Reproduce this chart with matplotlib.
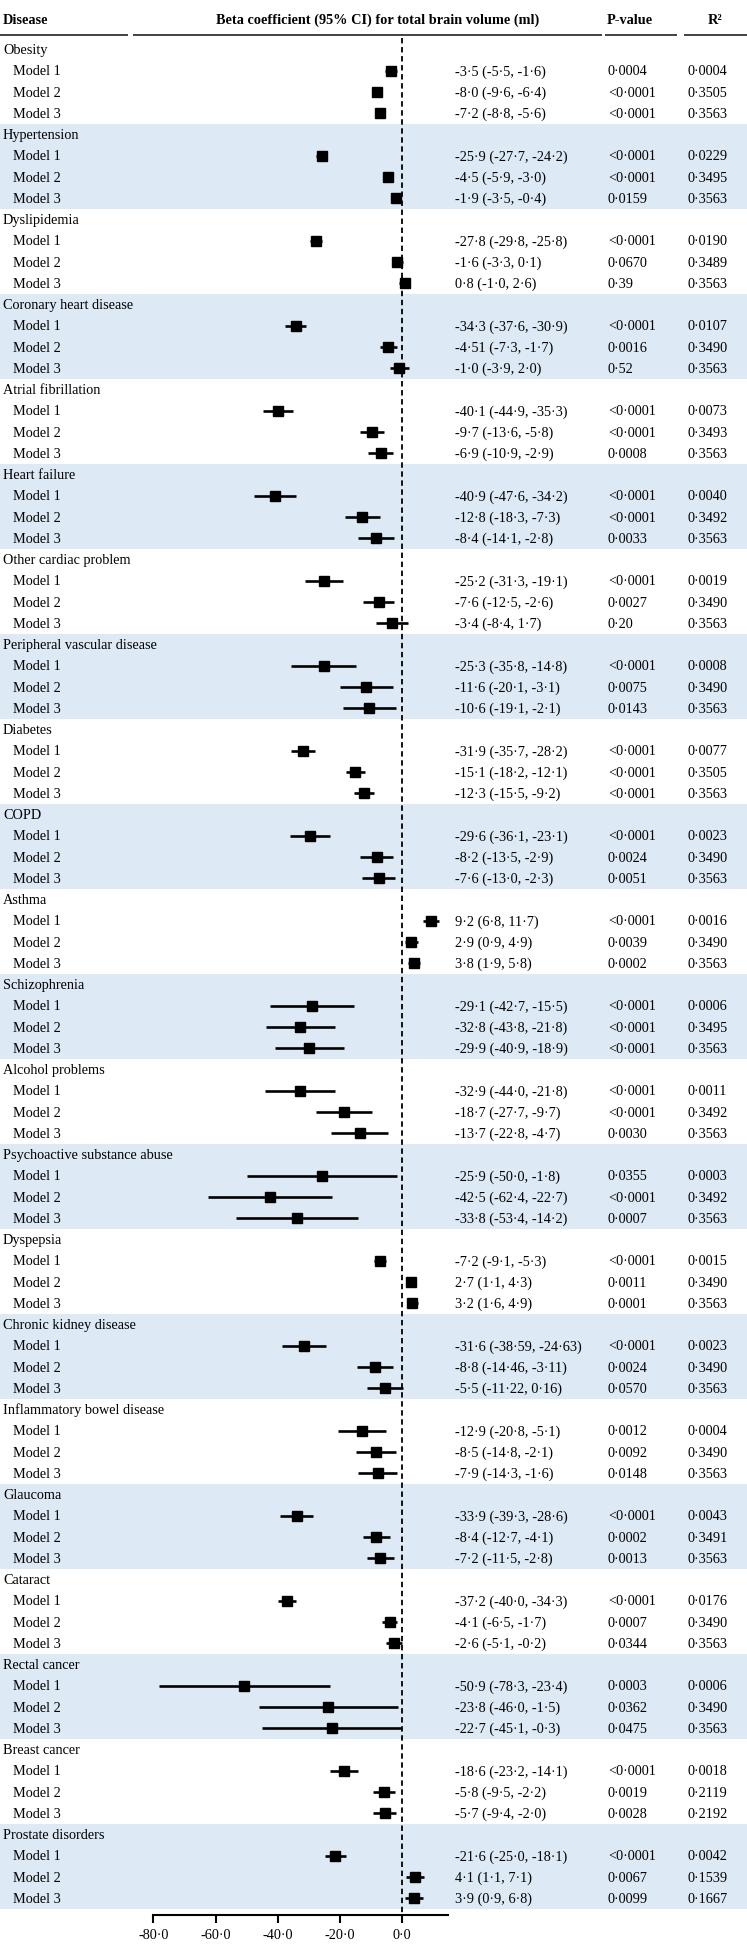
import matplotlib
matplotlib.use('Agg')
import matplotlib.pyplot as plt
from matplotlib.transforms import blended_transform_factory

plt.rcParams['font.family'] = ['Liberation Serif', 'DejaVu Serif']

# ---------------- data ----------------
groups = ["Obesity", "Hypertension", "Dyslipidemia", "Coronary heart disease",
          "Atrial fibrillation", "Heart failure", "Other cardiac problem",
          "Peripheral vascular disease", "Diabetes", "COPD", "Asthma",
          "Schizophrenia", "Alcohol problems", "Psychoactive substance abuse",
          "Dyspepsia", "Chronic kidney disease", "Inflammatory bowel disease",
          "Glaucoma", "Cataract", "Rectal cancer", "Breast cancer",
          "Prostate disorders"]

models = ["Model 1", "Model 2", "Model 3"]

est = [["-3.5", "-8.0", "-7.2"], ["-25.9", "-4.5", "-1.9"], ["-27.8", "-1.6", "0.8"],
       ["-34.3", "-4.51", "-1.0"], ["-40.1", "-9.7", "-6.9"], ["-40.9", "-12.8", "-8.4"],
       ["-25.2", "-7.6", "-3.4"], ["-25.3", "-11.6", "-10.6"], ["-31.9", "-15.1", "-12.3"],
       ["-29.6", "-8.2", "-7.6"], ["9.2", "2.9", "3.8"], ["-29.1", "-32.8", "-29.9"],
       ["-32.9", "-18.7", "-13.7"], ["-25.9", "-42.5", "-33.8"], ["-7.2", "2.7", "3.2"],
       ["-31.6", "-8.8", "-5.5"], ["-12.9", "-8.5", "-7.9"], ["-33.9", "-8.4", "-7.2"],
       ["-37.2", "-4.1", "-2.6"], ["-50.9", "-23.8", "-22.7"], ["-18.6", "-5.8", "-5.7"],
       ["-21.6", "4.1", "3.9"]]

lo = [["-5.5", "-9.6", "-8.8"], ["-27.7", "-5.9", "-3.5"], ["-29.8", "-3.3", "-1.0"],
      ["-37.6", "-7.3", "-3.9"], ["-44.9", "-13.6", "-10.9"], ["-47.6", "-18.3", "-14.1"],
      ["-31.3", "-12.5", "-8.4"], ["-35.8", "-20.1", "-19.1"], ["-35.7", "-18.2", "-15.5"],
      ["-36.1", "-13.5", "-13.0"], ["6.8", "0.9", "1.9"], ["-42.7", "-43.8", "-40.9"],
      ["-44.0", "-27.7", "-22.8"], ["-50.0", "-62.4", "-53.4"], ["-9.1", "1.1", "1.6"],
      ["-38.59", "-14.46", "-11.22"], ["-20.8", "-14.8", "-14.3"], ["-39.3", "-12.7", "-11.5"],
      ["-40.0", "-6.5", "-5.1"], ["-78.3", "-46.0", "-45.1"], ["-23.2", "-9.5", "-9.4"],
      ["-25.0", "1.1", "0.9"]]

hi = [["-1.6", "-6.4", "-5.6"], ["-24.2", "-3.0", "-0.4"], ["-25.8", "0.1", "2.6"],
      ["-30.9", "-1.7", "2.0"], ["-35.3", "-5.8", "-2.9"], ["-34.2", "-7.3", "-2.8"],
      ["-19.1", "-2.6", "1.7"], ["-14.8", "-3.1", "-2.1"], ["-28.2", "-12.1", "-9.2"],
      ["-23.1", "-2.9", "-2.3"], ["11.7", "4.9", "5.8"], ["-15.5", "-21.8", "-18.9"],
      ["-21.8", "-9.7", "-4.7"], ["-1.8", "-22.7", "-14.2"], ["-5.3", "4.3", "4.9"],
      ["-24.63", "-3.11", "0.16"], ["-5.1", "-2.1", "-1.6"], ["-28.6", "-4.1", "-2.8"],
      ["-34.3", "-1.7", "-0.2"], ["-23.4", "-1.5", "-0.3"], ["-14.1", "-2.2", "-2.0"],
      ["-18.1", "7.1", "6.8"]]

pval = [["0.0004", "<0.0001", "<0.0001"], ["<0.0001", "<0.0001", "0.0159"],
        ["<0.0001", "0.0670", "0.39"], ["<0.0001", "0.0016", "0.52"],
        ["<0.0001", "<0.0001", "0.0008"], ["<0.0001", "<0.0001", "0.0033"],
        ["<0.0001", "0.0027", "0.20"], ["<0.0001", "0.0075", "0.0143"],
        ["<0.0001", "<0.0001", "<0.0001"], ["<0.0001", "0.0024", "0.0051"],
        ["<0.0001", "0.0039", "0.0002"], ["<0.0001", "<0.0001", "<0.0001"],
        ["<0.0001", "<0.0001", "0.0030"], ["0.0355", "<0.0001", "0.0007"],
        ["<0.0001", "0.0011", "0.0001"], ["<0.0001", "0.0024", "0.0570"],
        ["0.0012", "0.0092", "0.0148"], ["<0.0001", "0.0002", "0.0013"],
        ["<0.0001", "0.0007", "0.0344"], ["0.0003", "0.0362", "0.0475"],
        ["<0.0001", "0.0019", "0.0028"], ["<0.0001", "0.0067", "0.0099"]]

r2 = [["0.0004", "0.3505", "0.3563"], ["0.0229", "0.3495", "0.3563"],
      ["0.0190", "0.3489", "0.3563"], ["0.0107", "0.3490", "0.3563"],
      ["0.0073", "0.3493", "0.3563"], ["0.0040", "0.3492", "0.3563"],
      ["0.0019", "0.3490", "0.3563"], ["0.0008", "0.3490", "0.3563"],
      ["0.0077", "0.3505", "0.3563"], ["0.0023", "0.3490", "0.3563"],
      ["0.0016", "0.3490", "0.3563"], ["0.0006", "0.3495", "0.3563"],
      ["0.0011", "0.3492", "0.3563"], ["0.0003", "0.3492", "0.3563"],
      ["0.0015", "0.3490", "0.3563"], ["0.0023", "0.3490", "0.3563"],
      ["0.0004", "0.3490", "0.3563"], ["0.0043", "0.3491", "0.3563"],
      ["0.0176", "0.3490", "0.3563"], ["0.0006", "0.3490", "0.3563"],
      ["0.0018", "0.2119", "0.2192"], ["0.0042", "0.1539", "0.1667"]]

xticks = [-80, -60, -40, -20, 0]
xtick_labels = ["-80.0", "-60.0", "-40.0", "-20.0", "0.0"]

headers = ["Disease", "Beta coefficient (95% CI) for total brain volume (ml)", "P-value", "R\u00b2"]

# ---------------- layout ----------------
W, H = 747, 1949
FS = 10.3
SHADE = '#dde9f5'
AX_BOTTOM = 1916          # pixel row of the x axis line
ROW0, PITCH = 50.6, 21.25 # pixel centre of first row, row pitch
X0, PPU = 402.3, 3.11     # pixel of x=0, pixels per unit


def dot(s):
    return s.replace('.', '\u00b7')


def r_of(px):
    return (px - ROW0) / PITCH


def fx(px):
    return px / W


fig = plt.figure(figsize=(W / 100, H / 100), dpi=100)
ax = fig.add_axes([0, (H - AX_BOTTOM) / H, 1, AX_BOTTOM / H])
ax.set_ylim(r_of(AX_BOTTOM), r_of(0))
ax.set_xlim((0 - X0) / PPU, (W - X0) / PPU)
trans = blended_transform_factory(ax.transAxes, ax.transData)

for g, name in enumerate(groups):
    base = 4 * g
    if g % 2 == 1:
        ax.axhspan(base - 0.5, base + 3.5, color=SHADE, lw=0, zorder=0)
    ax.text(fx(3), base, name, transform=trans, va='center', ha='left', fontsize=FS)
    for k in range(3):
        r = base + 1 + k
        e, l, h = float(est[g][k]), float(lo[g][k]), float(hi[g][k])
        ax.plot([l, h], [r, r], color='k', lw=1.9, solid_capstyle='butt', zorder=3)
        ax.plot([e], [r], marker='s', ms=6.5, color='k', zorder=4, lw=0)
        ax.text(fx(13), r, models[k], transform=trans, va='center', ha='left', fontsize=FS)
        ax.text(fx(455), r, dot(f"{est[g][k]} ({lo[g][k]}, {hi[g][k]})"), transform=trans,
                va='center', ha='left', fontsize=FS)
        ax.text(fx(608), r, dot(pval[g][k]), transform=trans, va='center', ha='left', fontsize=FS)
        ax.text(fx(688), r, dot(r2[g][k]), transform=trans, va='center', ha='left', fontsize=FS)

# header
hy = r_of(20)
ax.text(fx(3), hy, headers[0], transform=trans, va='center', ha='left', fontsize=FS, weight='bold')
ax.text(fx(378), hy, headers[1], transform=trans, va='center', ha='center', fontsize=FS, weight='bold')
ax.text(fx(630), hy, headers[2], transform=trans, va='center', ha='center', fontsize=FS, weight='bold')
ax.text(fx(715), hy, headers[3], transform=trans, va='center', ha='center', fontsize=FS, weight='bold')
for a, b in [(0, 128), (133, 602), (605, 677), (684, 747)]:
    ax.plot([fx(a), fx(b)], [r_of(36)] * 2, transform=trans, color='#222222', lw=1.2,
            solid_capstyle='butt')

# zero reference line
ax.plot([0, 0], [r_of(39), r_of(AX_BOTTOM)], color='k', lw=1.3, ls=(0, (3, 2)), zorder=2)

# axis
for s in ['top', 'left', 'right']:
    ax.spines[s].set_visible(False)
ax.spines['bottom'].set_bounds(-80, 14.7)
ax.spines['bottom'].set_linewidth(1.5)
ax.set_xticks(xticks)
ax.set_xticklabels([dot(t) for t in xtick_labels])
ax.set_yticks([])
ax.tick_params(axis='x', direction='out', length=6, width=1.5, pad=3.5, labelsize=FS)

fig.savefig('out.png', dpi=100)
